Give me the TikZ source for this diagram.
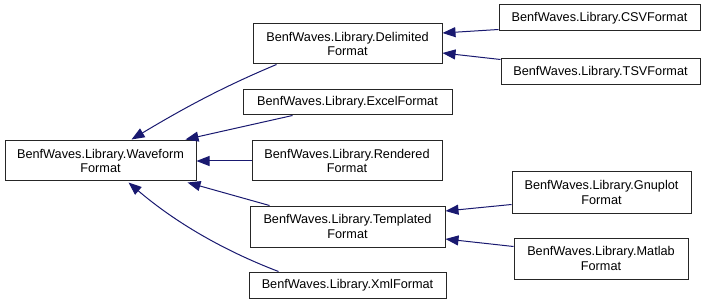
\documentclass[tikz,border=0pt]{standalone}
\usepackage{fontspec}
\setmainfont{Liberation Sans}
\usetikzlibrary{arrows.meta}
\definecolor{edgeblue}{HTML}{191970}
\tikzset{
  cls/.style={draw=black!85, line width=1pt, fill=white, inner sep=0pt,
    align=center, font=\fontsize{12.7}{14.5}\selectfont},
  inh/.style={draw=edgeblue, line width=1pt,
    -{Triangle[length=13pt,width=10pt,fill=edgeblue]}},
}

\begin{document}
\begin{tikzpicture}[x=1pt, y=-1pt]
	%%%%% START %%%%%
	\useasboundingbox (0,0) rectangle (708,304);

	\node[cls, minimum width=191pt, minimum height=40pt] (wave) at (100.5,161) {BenfWaves.Library.Waveform\\Format};

	\node[cls, minimum width=189pt, minimum height=40pt] (delim) at (347.5,44) {BenfWaves.Library.Delimited\\Format};
	\node[cls, minimum width=209pt, minimum height=25pt] (excel) at (347.5,102.5) {BenfWaves.Library.ExcelFormat};
	\node[cls, minimum width=190pt, minimum height=40pt] (rend) at (347,161) {BenfWaves.Library.Rendered\\Format};
	\node[cls, minimum width=195pt, minimum height=41pt] (templ) at (347.5,226.5) {BenfWaves.Library.Templated\\Format};
	\node[cls, minimum width=197pt, minimum height=26pt] (xml) at (347.5,285) {BenfWaves.Library.XmlFormat};

	\node[cls, minimum width=201pt, minimum height=26pt] (csv) at (599.5,18) {BenfWaves.Library.CSVFormat};
	\node[cls, minimum width=199pt, minimum height=26pt] (tsv) at (600.5,72) {BenfWaves.Library.TSVFormat};
	\node[cls, minimum width=179pt, minimum height=41pt] (gnu) at (601.5,192.5) {BenfWaves.Library.Gnuplot\\Format};
	\node[cls, minimum width=174pt, minimum height=41pt] (mat) at (601,258.5) {BenfWaves.Library.Matlab\\Format};

	% second level -> waveform
	\draw[inh] ([xshift=24pt]delim.south west) .. controls +(-55,23) and +(50,-30) .. ([xshift=127pt,yshift=1pt]wave.north west);
	\draw[inh] ([xshift=50pt]excel.south west) -- ([xshift=-11pt,yshift=1pt]wave.north east);
	\draw[inh] (rend.west) -- (wave.east);
	\draw[inh] ([xshift=20pt]templ.north west) -- ([xshift=-9pt,yshift=-1pt]wave.south east);
	\draw[inh] ([xshift=30pt]xml.north west) .. controls +(-55,-21) and +(47,40) .. ([xshift=124pt,yshift=-1pt]wave.south west);

	% third level
	\draw[inh] ([yshift=2pt]csv.south west) -- ([yshift=11pt]delim.east);
	\draw[inh] ([yshift=-1pt]tsv.north west) -- ([yshift=-9pt]delim.east);
	\draw[inh] ([yshift=9pt]gnu.south west) -- ([yshift=15.5pt]templ.east);
	\draw[inh] ([yshift=-9pt]mat.north west) -- ([yshift=-12.5pt]templ.east);
	%%%%% END %%%%%
\end{tikzpicture}
\end{document}
